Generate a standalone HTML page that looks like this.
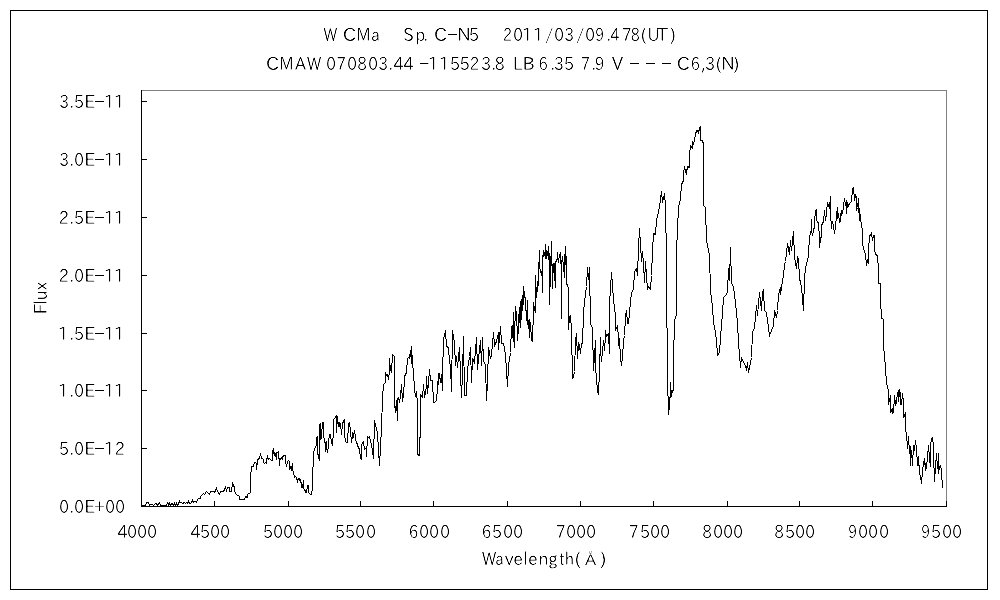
<!DOCTYPE html>
<html><head><meta charset="utf-8"><title>W CMa spectrum</title><style>
html,body{margin:0;padding:0;background:#fff;width:1000px;height:600px;overflow:hidden}
svg{display:block}
text{stroke:#fff;stroke-width:0.2px;font-family:"IPAPGothic","Liberation Sans","Noto Sans CJK JP",sans-serif;font-size:18px;fill:#000}
.s{filter:url(#sharp)}
</style></head><body>
<svg width="1000" height="600" viewBox="0 0 1000 600">
<defs>
<filter id="sharp" color-interpolation-filters="sRGB"><feFlood flood-color="#fff"/><feComposite in="SourceGraphic" operator="over"/><feColorMatrix type="matrix" values="0 0 0 0 0  0 0 0 0 0  0 0 0 0 0  -1 0 0 0 1"/><feComponentTransfer><feFuncA type="linear" slope="2" intercept="-0.5"/></feComponentTransfer></filter>
</defs>
<rect x="0" y="0" width="1000" height="600" fill="#fff"/>
<rect x="10.5" y="10.5" width="977" height="579" fill="none" stroke="#000" stroke-width="1" shape-rendering="crispEdges"/>
<text class="s" y="41"><tspan x="323.42" y="41" textLength="13.75" lengthAdjust="spacingAndGlyphs">W</tspan> <tspan x="342.86" y="41" textLength="13.52" lengthAdjust="spacingAndGlyphs">C</tspan><tspan x="356.54" y="41" textLength="13.95" lengthAdjust="spacingAndGlyphs">M</tspan><tspan x="371.10" y="41" textLength="8.88" lengthAdjust="spacingAndGlyphs">a</tspan>　<tspan x="403.07" y="41" textLength="10.89" lengthAdjust="spacingAndGlyphs">S</tspan><tspan x="415.60" y="41" textLength="9.75" lengthAdjust="spacingAndGlyphs">p</tspan><tspan x="423.15" y="41">.</tspan> <tspan x="433.91" y="41">C</tspan><tspan x="446.24" y="40" textLength="12.61" lengthAdjust="spacingAndGlyphs">-</tspan><tspan x="457.33" y="41" textLength="13.41" lengthAdjust="spacingAndGlyphs">N</tspan><tspan x="468.73" y="41" textLength="10.31" lengthAdjust="spacingAndGlyphs">5</tspan>　<tspan x="502.99" y="41" textLength="8.82" lengthAdjust="spacingAndGlyphs">2</tspan><tspan x="513.15" y="41" textLength="9.65" lengthAdjust="spacingAndGlyphs">0</tspan><tspan x="521.40" y="41">1</tspan><tspan x="532.40" y="41">1</tspan><tspan x="544.79" y="41" textLength="9.45" lengthAdjust="spacingAndGlyphs">/</tspan><tspan x="554.15" y="41" textLength="9.65" lengthAdjust="spacingAndGlyphs">0</tspan><tspan x="564.30" y="41" textLength="9.97" lengthAdjust="spacingAndGlyphs">3</tspan><tspan x="575.79" y="41" textLength="9.45" lengthAdjust="spacingAndGlyphs">/</tspan><tspan x="585.15" y="41" textLength="9.65" lengthAdjust="spacingAndGlyphs">0</tspan><tspan x="595.22" y="41" textLength="8.82" lengthAdjust="spacingAndGlyphs">9</tspan><tspan x="606.15" y="41">.</tspan><tspan x="610.52" y="41" textLength="8.98" lengthAdjust="spacingAndGlyphs">4</tspan><tspan x="621.99" y="41" textLength="9.56" lengthAdjust="spacingAndGlyphs">7</tspan><tspan x="630.70" y="41" textLength="9.05" lengthAdjust="spacingAndGlyphs">8</tspan><tspan x="640.60" y="41">(</tspan><tspan x="647.70" y="41" textLength="11.64" lengthAdjust="spacingAndGlyphs">U</tspan><tspan x="657.10" y="41">T</tspan><tspan x="669.90" y="41">)</tspan></text>
<text class="s" y="70"><tspan x="265.91" y="70">C</tspan><tspan x="279.54" y="70" textLength="13.95" lengthAdjust="spacingAndGlyphs">M</tspan><tspan x="295.00" y="70" textLength="11.07" lengthAdjust="spacingAndGlyphs">A</tspan><tspan x="306.91" y="70" textLength="14.26" lengthAdjust="spacingAndGlyphs">W</tspan> <tspan x="326.15" y="70" textLength="9.65" lengthAdjust="spacingAndGlyphs">0</tspan><tspan x="336.60" y="70" textLength="9.43" lengthAdjust="spacingAndGlyphs">7</tspan><tspan x="347.15" y="70" textLength="9.65" lengthAdjust="spacingAndGlyphs">0</tspan><tspan x="357.15" y="70" textLength="9.65" lengthAdjust="spacingAndGlyphs">8</tspan><tspan x="368.15" y="70" textLength="9.65" lengthAdjust="spacingAndGlyphs">0</tspan><tspan x="378.30" y="70" textLength="9.97" lengthAdjust="spacingAndGlyphs">3</tspan><tspan x="388.15" y="70">.</tspan><tspan x="393.47" y="70" textLength="10.10" lengthAdjust="spacingAndGlyphs">4</tspan><tspan x="403.47" y="70" textLength="10.10" lengthAdjust="spacingAndGlyphs">4</tspan> <tspan x="418.30" y="69" textLength="12.19" lengthAdjust="spacingAndGlyphs">-</tspan><tspan x="427.40" y="70">1</tspan><tspan x="438.40" y="70">1</tspan><tspan x="449.73" y="70" textLength="10.31" lengthAdjust="spacingAndGlyphs">5</tspan><tspan x="459.43" y="70" textLength="10.31" lengthAdjust="spacingAndGlyphs">5</tspan><tspan x="469.73" y="70" textLength="9.32" lengthAdjust="spacingAndGlyphs">2</tspan><tspan x="480.97" y="70" textLength="10.34" lengthAdjust="spacingAndGlyphs">3</tspan><tspan x="491.15" y="70">.</tspan><tspan x="494.82" y="70" textLength="10.01" lengthAdjust="spacingAndGlyphs">8</tspan> <tspan x="512.67" y="70" textLength="9.94" lengthAdjust="spacingAndGlyphs">L</tspan><tspan x="522.49" y="70" textLength="12.46" lengthAdjust="spacingAndGlyphs">B</tspan> <tspan x="538.55" y="70" textLength="9.30" lengthAdjust="spacingAndGlyphs">6</tspan><tspan x="550.15" y="70">.</tspan><tspan x="554.10" y="70" textLength="9.97" lengthAdjust="spacingAndGlyphs">3</tspan><tspan x="563.73" y="70" textLength="10.31" lengthAdjust="spacingAndGlyphs">5</tspan> <tspan x="581.06" y="70" textLength="8.92" lengthAdjust="spacingAndGlyphs">7</tspan><tspan x="591.15" y="70">.</tspan><tspan x="594.74" y="70" textLength="9.70" lengthAdjust="spacingAndGlyphs">9</tspan> <tspan x="612.00" y="70" textLength="11.07" lengthAdjust="spacingAndGlyphs">V</tspan> <tspan x="628.24" y="69" textLength="12.61" lengthAdjust="spacingAndGlyphs">-</tspan> <tspan x="644.24" y="69" textLength="12.61" lengthAdjust="spacingAndGlyphs">-</tspan> <tspan x="660.24" y="69" textLength="12.61" lengthAdjust="spacingAndGlyphs">-</tspan> <tspan x="676.69" y="70">C</tspan><tspan x="690.67" y="70" textLength="9.17" lengthAdjust="spacingAndGlyphs">6</tspan><tspan x="701.27" y="70">,</tspan><tspan x="705.02" y="70" textLength="10.28" lengthAdjust="spacingAndGlyphs">3</tspan><tspan x="715.60" y="70">(</tspan><tspan x="721.33" y="70" textLength="13.41" lengthAdjust="spacingAndGlyphs">N</tspan><tspan x="733.40" y="70">)</tspan></text>
<path d="M141,90.5H946.5V506" fill="none" stroke="#808080" stroke-width="1" shape-rendering="crispEdges"/>
<path d="M141.5,90V506.5H947 M141,506.5H147 M141,448.5H147 M141,390.5H147 M141,333.5H147 M141,275.5H147 M141,217.5H147 M141,159.5H147 M141,101.5H147 M141.5,506V501 M214.5,506V501 M288.5,506V501 M360.5,506V501 M433.5,506V501 M507.5,506V501 M580.5,506V501 M653.5,506V501 M727.5,506V501 M799.5,506V501 M872.5,506V501 M946.5,506V501" fill="none" stroke="#000" stroke-width="1" shape-rendering="crispEdges"/>
<polyline points="141.5,505.5 145.5,505.5 146.5,502.5 148.5,502.5 149.5,505.5 150.5,504.5 152.5,504.5 153.5,505.5 155.5,503.5 156.5,503.5 157.5,505.5 159.5,502.5 160.5,505.5 166.5,505.5 167.5,502.5 168.5,503.5 168.5,505.5 169.5,503.5 170.5,505.5 171.5,503.5 172.5,503.5 173.5,505.5 174.5,503.5 175.5,505.5 176.5,503.5 177.5,505.5 178.5,503.5 179.5,500.5 179.5,502.5 181.5,502.5 182.5,503.5 184.5,502.5 185.5,503.5 186.5,502.5 187.5,503.5 188.5,500.5 188.5,502.5 190.5,503.5 191.5,502.5 192.5,500.5 193.5,502.5 194.5,501.5 196.5,501.5 196.5,502.5 197.5,499.5 198.5,498.5 200.5,498.5 200.5,496.5 203.5,493.5 204.5,494.5 206.5,491.5 209.5,494.5 210.5,491.5 213.5,491.5 214.5,492.5 216.5,488.5 217.5,491.5 219.5,494.5 220.5,491.5 223.5,491.5 225.5,487.5 226.5,490.5 227.5,487.5 229.5,487.5 229.5,491.5 231.5,491.5 232.5,483.5 233.5,485.5 234.5,487.5 234.5,491.5 236.5,494.5 239.5,496.5 239.5,499.5 244.5,499.5 245.5,496.5 247.5,497.5 247.5,494.5 250.5,492.5 250.5,477.5 251.5,466.5 253.5,466.5 254.5,462.5 255.5,462.5 256.5,463.5 256.5,469.5 257.5,460.5 258.5,458.5 259.5,458.5 260.5,453.5 261.5,458.5 262.5,458.5 263.5,459.5 263.5,462.5 264.5,463.5 265.5,462.5 266.5,463.5 266.5,460.5 267.5,456.5 268.5,459.5 269.5,458.5 270.5,459.5 271.5,460.5 272.5,460.5 272.5,450.5 273.5,453.5 273.5,448.5 274.5,455.5 274.5,453.5 275.5,453.5 276.5,459.5 276.5,452.5 277.5,452.5 278.5,451.5 279.5,465.5 279.5,458.5 280.5,459.5 280.5,458.5 281.5,457.5 282.5,459.5 282.5,457.5 283.5,455.5 285.5,455.5 285.5,461.5 286.5,466.5 287.5,461.5 288.5,460.5 289.5,461.5 289.5,469.5 290.5,467.5 291.5,469.5 292.5,463.5 292.5,469.5 293.5,472.5 294.5,477.5 295.5,476.5 296.5,477.5 297.5,481.5 298.5,478.5 299.5,478.5 300.5,482.5 300.5,479.5 301.5,485.5 301.5,487.5 302.5,487.5 303.5,480.5 303.5,488.5 304.5,489.5 305.5,491.5 305.5,492.5 306.5,492.5 307.5,485.5 308.5,485.5 308.5,492.5 309.5,493.5 310.5,494.5 311.5,494.5 312.5,488.5 312.5,482.5 313.5,452.5 314.5,449.5 314.5,448.5 315.5,447.5 316.5,444.5 316.5,437.5 317.5,436.5 317.5,453.5 318.5,455.5 318.5,457.5 319.5,460.5 319.5,425.5 320.5,423.5 320.5,439.5 321.5,437.5 321.5,435.5 322.5,422.5 323.5,422.5 323.5,435.5 324.5,439.5 325.5,445.5 325.5,451.5 326.5,441.5 326.5,446.5 327.5,452.5 328.5,445.5 328.5,442.5 329.5,434.5 330.5,434.5 331.5,443.5 332.5,444.5 332.5,445.5 333.5,430.5 333.5,419.5 334.5,418.5 335.5,417.5 336.5,415.5 336.5,432.5 337.5,416.5 337.5,417.5 338.5,426.5 339.5,426.5 339.5,422.5 340.5,423.5 341.5,434.5 342.5,423.5 343.5,421.5 344.5,419.5 344.5,433.5 345.5,441.5 346.5,442.5 347.5,442.5 348.5,423.5 349.5,422.5 350.5,430.5 351.5,442.5 352.5,432.5 352.5,438.5 353.5,436.5 354.5,430.5 355.5,437.5 356.5,443.5 357.5,443.5 357.5,445.5 358.5,447.5 359.5,449.5 360.5,457.5 361.5,459.5 361.5,445.5 362.5,442.5 363.5,441.5 364.5,449.5 365.5,448.5 366.5,449.5 366.5,456.5 367.5,436.5 368.5,437.5 369.5,436.5 370.5,441.5 371.5,444.5 373.5,458.5 374.5,420.5 377.5,433.5 379.5,465.5 381.5,428.5 382.5,397.5 383.5,384.5 385.5,382.5 385.5,372.5 386.5,375.5 387.5,374.5 388.5,379.5 389.5,370.5 389.5,358.5 390.5,370.5 391.5,366.5 391.5,372.5 392.5,354.5 394.5,356.5 394.5,402.5 395.5,412.5 396.5,400.5 397.5,420.5 397.5,398.5 398.5,397.5 399.5,402.5 400.5,396.5 401.5,384.5 402.5,401.5 403.5,393.5 403.5,397.5 404.5,376.5 406.5,372.5 407.5,358.5 408.5,357.5 409.5,358.5 410.5,350.5 411.5,363.5 411.5,346.5 412.5,363.5 413.5,372.5 414.5,388.5 415.5,396.5 416.5,397.5 416.5,391.5 417.5,404.5 417.5,454.5 419.5,455.5 420.5,420.5 420.5,394.5 422.5,397.5 423.5,384.5 424.5,397.5 426.5,386.5 426.5,376.5 427.5,393.5 428.5,382.5 429.5,369.5 430.5,380.5 432.5,380.5 433.5,402.5 434.5,402.5 436.5,400.5 437.5,388.5 438.5,373.5 438.5,384.5 439.5,373.5 440.5,382.5 441.5,374.5 442.5,390.5 442.5,376.5 443.5,339.5 445.5,330.5 446.5,346.5 448.5,347.5 449.5,362.5 450.5,365.5 451.5,391.5 452.5,330.5 454.5,343.5 455.5,365.5 456.5,356.5 457.5,367.5 459.5,347.5 460.5,373.5 461.5,397.5 462.5,373.5 463.5,336.5 464.5,395.5 466.5,395.5 467.5,369.5 469.5,356.5 470.5,347.5 471.5,382.5 472.5,358.5 474.5,362.5 476.5,337.5 477.5,369.5 479.5,349.5 480.5,340.5 481.5,365.5 482.5,337.5 483.5,360.5 485.5,365.5 486.5,400.5 487.5,382.5 488.5,347.5 490.5,358.5 491.5,354.5 493.5,332.5 494.5,345.5 496.5,341.5 498.5,332.5 498.5,349.5 500.5,326.5 501.5,343.5 503.5,343.5 505.5,354.5 506.5,371.5 507.5,386.5 508.5,365.5 510.5,352.5 511.5,326.5 512.5,328.5 512.5,337.5 513.5,312.5 513.5,336.5 514.5,347.5 514.5,336.5 515.5,306.5 516.5,315.5 516.5,311.5 517.5,340.5 518.5,314.5 518.5,333.5 519.5,313.5 519.5,307.5 520.5,327.5 520.5,303.5 521.5,299.5 521.5,319.5 522.5,302.5 522.5,304.5 523.5,286.5 523.5,304.5 524.5,291.5 525.5,301.5 525.5,300.5 526.5,320.5 527.5,300.5 527.5,321.5 528.5,328.5 528.5,320.5 529.5,337.5 529.5,319.5 530.5,323.5 531.5,339.5 532.5,341.5 532.5,325.5 533.5,324.5 533.5,302.5 534.5,309.5 535.5,312.5 535.5,297.5 535.5,275.5 536.5,297.5 537.5,281.5 537.5,291.5 538.5,281.5 538.5,274.5 539.5,250.5 539.5,267.5 540.5,270.5 541.5,275.5 541.5,271.5 542.5,274.5 542.5,292.5 542.5,259.5 543.5,250.5 543.5,256.5 544.5,252.5 545.5,258.5 545.5,243.5 545.5,255.5 546.5,258.5 546.5,250.5 547.5,252.5 548.5,259.5 548.5,246.5 549.5,259.5 549.5,304.5 550.5,271.5 550.5,272.5 551.5,241.5 552.5,288.5 552.5,264.5 553.5,272.5 553.5,263.5 554.5,280.5 554.5,263.5 555.5,287.5 555.5,262.5 556.5,260.5 557.5,258.5 557.5,252.5 558.5,262.5 558.5,261.5 559.5,255.5 559.5,256.5 560.5,252.5 561.5,274.5 561.5,318.5 561.5,263.5 562.5,256.5 563.5,267.5 563.5,271.5 564.5,254.5 564.5,277.5 565.5,253.5 565.5,246.5 566.5,265.5 566.5,284.5 567.5,284.5 568.5,289.5 568.5,329.5 569.5,316.5 570.5,315.5 571.5,330.5 572.5,378.5 573.5,376.5 574.5,371.5 575.5,340.5 576.5,333.5 577.5,358.5 578.5,343.5 579.5,345.5 580.5,353.5 581.5,343.5 582.5,343.5 583.5,313.5 584.5,301.5 586.5,286.5 587.5,267.5 588.5,279.5 589.5,267.5 590.5,323.5 592.5,328.5 593.5,370.5 595.5,340.5 595.5,366.5 597.5,391.5 598.5,393.5 599.5,371.5 600.5,337.5 600.5,350.5 601.5,361.5 603.5,340.5 604.5,350.5 605.5,336.5 605.5,330.5 606.5,336.5 608.5,333.5 609.5,353.5 609.5,303.5 611.5,272.5 613.5,299.5 615.5,316.5 615.5,330.5 617.5,325.5 618.5,338.5 618.5,345.5 619.5,338.5 620.5,358.5 621.5,365.5 622.5,356.5 623.5,341.5 624.5,335.5 625.5,316.5 626.5,310.5 627.5,323.5 628.5,323.5 629.5,313.5 630.5,301.5 631.5,292.5 633.5,289.5 634.5,271.5 636.5,268.5 637.5,275.5 638.5,247.5 639.5,228.5 640.5,244.5 641.5,261.5 642.5,251.5 643.5,263.5 644.5,282.5 645.5,261.5 647.5,289.5 648.5,286.5 650.5,289.5 651.5,275.5 652.5,251.5 653.5,233.5 655.5,234.5 656.5,219.5 658.5,212.5 659.5,206.5 661.5,191.5 662.5,202.5 664.5,193.5 665.5,205.5 666.5,258.5 667.5,395.5 668.5,396.5 668.5,414.5 669.5,406.5 669.5,398.5 670.5,396.5 670.5,382.5 671.5,396.5 672.5,390.5 673.5,390.5 673.5,360.5 674.5,320.5 676.5,314.5 676.5,251.5 678.5,207.5 680.5,198.5 681.5,184.5 683.5,180.5 683.5,174.5 684.5,166.5 685.5,171.5 686.5,169.5 686.5,174.5 687.5,166.5 689.5,167.5 689.5,154.5 690.5,145.5 691.5,146.5 692.5,148.5 692.5,141.5 693.5,143.5 694.5,140.5 695.5,134.5 696.5,130.5 697.5,130.5 698.5,132.5 699.5,128.5 700.5,126.5 700.5,140.5 702.5,140.5 703.5,144.5 703.5,145.5 703.5,205.5 705.5,207.5 706.5,240.5 707.5,245.5 709.5,255.5 710.5,290.5 712.5,307.5 713.5,322.5 715.5,332.5 716.5,340.5 717.5,355.5 719.5,352.5 720.5,337.5 722.5,312.5 723.5,297.5 725.5,295.5 727.5,292.5 728.5,268.5 729.5,280.5 730.5,247.5 731.5,282.5 733.5,287.5 735.5,302.5 737.5,322.5 738.5,342.5 740.5,367.5 741.5,357.5 743.5,362.5 745.5,365.5 746.5,370.5 747.5,362.5 748.5,372.5 751.5,357.5 752.5,332.5 754.5,327.5 756.5,305.5 757.5,315.5 759.5,292.5 761.5,310.5 762.5,292.5 763.5,290.5 764.5,310.5 766.5,312.5 767.5,320.5 769.5,335.5 771.5,330.5 773.5,325.5 774.5,310.5 776.5,317.5 777.5,310.5 778.5,294.5 780.5,287.5 780.5,294.5 782.5,280.5 783.5,275.5 784.5,264.5 785.5,261.5 786.5,252.5 787.5,243.5 789.5,254.5 790.5,240.5 791.5,250.5 793.5,231.5 794.5,257.5 796.5,268.5 797.5,257.5 798.5,259.5 799.5,278.5 800.5,282.5 801.5,287.5 803.5,310.5 804.5,278.5 805.5,268.5 808.5,255.5 808.5,252.5 809.5,238.5 810.5,231.5 811.5,231.5 811.5,218.5 811.5,230.5 812.5,235.5 813.5,230.5 814.5,226.5 814.5,221.5 815.5,211.5 816.5,209.5 816.5,220.5 817.5,221.5 818.5,223.5 819.5,237.5 819.5,247.5 820.5,238.5 821.5,236.5 821.5,225.5 822.5,223.5 823.5,221.5 824.5,210.5 825.5,220.5 826.5,213.5 826.5,210.5 827.5,203.5 828.5,205.5 829.5,208.5 830.5,196.5 830.5,213.5 831.5,228.5 831.5,222.5 832.5,221.5 833.5,225.5 834.5,233.5 835.5,227.5 836.5,215.5 837.5,207.5 837.5,218.5 838.5,213.5 839.5,222.5 840.5,213.5 840.5,221.5 841.5,210.5 842.5,213.5 843.5,206.5 844.5,198.5 845.5,205.5 846.5,200.5 846.5,213.5 847.5,203.5 848.5,205.5 849.5,203.5 850.5,202.5 851.5,201.5 852.5,188.5 853.5,187.5 854.5,200.5 855.5,195.5 856.5,197.5 856.5,210.5 857.5,207.5 858.5,198.5 858.5,205.5 859.5,220.5 859.5,208.5 860.5,219.5 862.5,230.5 862.5,245.5 863.5,246.5 864.5,252.5 865.5,253.5 866.5,265.5 867.5,260.5 868.5,263.5 868.5,251.5 869.5,235.5 870.5,235.5 871.5,232.5 872.5,240.5 873.5,235.5 874.5,235.5 874.5,250.5 875.5,253.5 876.5,255.5 877.5,255.5 878.5,270.5 878.5,283.5 880.5,283.5 880.5,298.5 881.5,318.5 882.5,318.5 883.5,319.5 883.5,346.5 884.5,354.5 886.5,382.5 887.5,387.5 888.5,390.5 888.5,404.5 889.5,398.5 889.5,401.5 890.5,395.5 890.5,412.5 891.5,410.5 892.5,412.5 893.5,404.5 893.5,412.5 894.5,395.5 895.5,404.5 895.5,405.5 896.5,401.5 897.5,392.5 898.5,401.5 898.5,390.5 899.5,389.5 900.5,404.5 900.5,392.5 901.5,404.5 902.5,393.5 902.5,394.5 903.5,401.5 903.5,400.5 903.5,417.5 904.5,415.5 905.5,412.5 905.5,430.5 906.5,433.5 907.5,448.5 908.5,436.5 909.5,453.5 910.5,446.5 910.5,465.5 911.5,450.5 912.5,465.5 913.5,445.5 914.5,450.5 915.5,440.5 916.5,448.5 917.5,465.5 918.5,465.5 918.5,456.5 919.5,473.5 920.5,476.5 921.5,483.5 922.5,470.5 923.5,463.5 924.5,458.5 925.5,470.5 925.5,463.5 926.5,468.5 927.5,456.5 928.5,445.5 929.5,458.5 930.5,466.5 930.5,446.5 931.5,438.5 932.5,437.5 933.5,446.5 933.5,453.5 934.5,481.5 935.5,466.5 936.5,453.5 937.5,468.5 938.5,453.5 938.5,473.5 939.5,466.5 940.5,465.5 941.5,470.5 942.5,488.5" fill="none" stroke="#000" stroke-width="1" shape-rendering="crispEdges"/>
<text class="s" y="513"><tspan x="59.15" y="513" textLength="9.65" lengthAdjust="spacingAndGlyphs">0</tspan><tspan x="69.15" y="513">.</tspan><tspan x="74.15" y="513" textLength="9.65" lengthAdjust="spacingAndGlyphs">0</tspan><tspan x="84.36" y="513" textLength="11.25" lengthAdjust="spacingAndGlyphs">E</tspan><tspan x="94.03" y="512" textLength="10.97" lengthAdjust="spacingAndGlyphs">+</tspan><tspan x="105.15" y="513" textLength="9.65" lengthAdjust="spacingAndGlyphs">0</tspan><tspan x="115.15" y="513" textLength="9.65" lengthAdjust="spacingAndGlyphs">0</tspan></text>
<text class="s" y="455"><tspan x="58.73" y="455" textLength="10.31" lengthAdjust="spacingAndGlyphs">5</tspan><tspan x="69.15" y="455">.</tspan><tspan x="74.15" y="455" textLength="9.65" lengthAdjust="spacingAndGlyphs">0</tspan><tspan x="84.36" y="455" textLength="11.25" lengthAdjust="spacingAndGlyphs">E</tspan><tspan x="93.24" y="454" textLength="12.61" lengthAdjust="spacingAndGlyphs">-</tspan><tspan x="103.40" y="455">1</tspan><tspan x="114.84" y="455" textLength="10.08" lengthAdjust="spacingAndGlyphs">2</tspan></text>
<text class="s" y="397"><tspan x="57.40" y="397">1</tspan><tspan x="69.15" y="397">.</tspan><tspan x="74.15" y="397" textLength="9.65" lengthAdjust="spacingAndGlyphs">0</tspan><tspan x="84.36" y="397" textLength="11.25" lengthAdjust="spacingAndGlyphs">E</tspan><tspan x="93.24" y="396" textLength="12.61" lengthAdjust="spacingAndGlyphs">-</tspan><tspan x="103.40" y="397">1</tspan><tspan x="113.40" y="397">1</tspan></text>
<text class="s" y="340"><tspan x="57.40" y="340">1</tspan><tspan x="69.15" y="340">.</tspan><tspan x="73.73" y="340" textLength="10.31" lengthAdjust="spacingAndGlyphs">5</tspan><tspan x="84.36" y="340" textLength="11.25" lengthAdjust="spacingAndGlyphs">E</tspan><tspan x="93.24" y="339" textLength="12.61" lengthAdjust="spacingAndGlyphs">-</tspan><tspan x="103.40" y="340">1</tspan><tspan x="113.40" y="340">1</tspan></text>
<text class="s" y="282"><tspan x="58.84" y="282" textLength="10.08" lengthAdjust="spacingAndGlyphs">2</tspan><tspan x="69.15" y="282">.</tspan><tspan x="74.15" y="282" textLength="9.65" lengthAdjust="spacingAndGlyphs">0</tspan><tspan x="84.36" y="282" textLength="11.25" lengthAdjust="spacingAndGlyphs">E</tspan><tspan x="93.24" y="281" textLength="12.61" lengthAdjust="spacingAndGlyphs">-</tspan><tspan x="103.40" y="282">1</tspan><tspan x="113.40" y="282">1</tspan></text>
<text class="s" y="224"><tspan x="58.84" y="224" textLength="10.08" lengthAdjust="spacingAndGlyphs">2</tspan><tspan x="69.15" y="224">.</tspan><tspan x="73.73" y="224" textLength="10.31" lengthAdjust="spacingAndGlyphs">5</tspan><tspan x="84.36" y="224" textLength="11.25" lengthAdjust="spacingAndGlyphs">E</tspan><tspan x="93.24" y="223" textLength="12.61" lengthAdjust="spacingAndGlyphs">-</tspan><tspan x="103.40" y="224">1</tspan><tspan x="113.40" y="224">1</tspan></text>
<text class="s" y="166"><tspan x="59.30" y="166" textLength="9.97" lengthAdjust="spacingAndGlyphs">3</tspan><tspan x="69.15" y="166">.</tspan><tspan x="74.15" y="166" textLength="9.65" lengthAdjust="spacingAndGlyphs">0</tspan><tspan x="84.36" y="166" textLength="11.25" lengthAdjust="spacingAndGlyphs">E</tspan><tspan x="93.24" y="165" textLength="12.61" lengthAdjust="spacingAndGlyphs">-</tspan><tspan x="103.40" y="166">1</tspan><tspan x="113.40" y="166">1</tspan></text>
<text class="s" y="108"><tspan x="59.30" y="108" textLength="9.97" lengthAdjust="spacingAndGlyphs">3</tspan><tspan x="69.15" y="108">.</tspan><tspan x="73.73" y="108" textLength="10.31" lengthAdjust="spacingAndGlyphs">5</tspan><tspan x="84.36" y="108" textLength="11.25" lengthAdjust="spacingAndGlyphs">E</tspan><tspan x="93.24" y="107" textLength="12.61" lengthAdjust="spacingAndGlyphs">-</tspan><tspan x="103.40" y="108">1</tspan><tspan x="113.40" y="108">1</tspan></text>
<text class="s" y="538"><tspan x="117.47" y="538" textLength="10.10" lengthAdjust="spacingAndGlyphs">4</tspan><tspan x="127.15" y="538" textLength="9.65" lengthAdjust="spacingAndGlyphs">0</tspan><tspan x="137.15" y="538" textLength="9.65" lengthAdjust="spacingAndGlyphs">0</tspan><tspan x="147.15" y="538" textLength="9.65" lengthAdjust="spacingAndGlyphs">0</tspan></text>
<text class="s" y="538"><tspan x="190.47" y="538" textLength="10.10" lengthAdjust="spacingAndGlyphs">4</tspan><tspan x="199.73" y="538" textLength="10.31" lengthAdjust="spacingAndGlyphs">5</tspan><tspan x="210.15" y="538" textLength="9.65" lengthAdjust="spacingAndGlyphs">0</tspan><tspan x="220.15" y="538" textLength="9.65" lengthAdjust="spacingAndGlyphs">0</tspan></text>
<text class="s" y="538"><tspan x="262.73" y="538" textLength="10.31" lengthAdjust="spacingAndGlyphs">5</tspan><tspan x="273.15" y="538" textLength="9.65" lengthAdjust="spacingAndGlyphs">0</tspan><tspan x="283.15" y="538" textLength="9.65" lengthAdjust="spacingAndGlyphs">0</tspan><tspan x="293.15" y="538" textLength="9.65" lengthAdjust="spacingAndGlyphs">0</tspan></text>
<text class="s" y="538"><tspan x="334.73" y="538" textLength="10.31" lengthAdjust="spacingAndGlyphs">5</tspan><tspan x="344.73" y="538" textLength="10.31" lengthAdjust="spacingAndGlyphs">5</tspan><tspan x="355.15" y="538" textLength="9.65" lengthAdjust="spacingAndGlyphs">0</tspan><tspan x="366.15" y="538" textLength="9.65" lengthAdjust="spacingAndGlyphs">0</tspan></text>
<text class="s" y="538"><tspan x="408.82" y="538" textLength="9.56" lengthAdjust="spacingAndGlyphs">6</tspan><tspan x="419.15" y="538" textLength="9.65" lengthAdjust="spacingAndGlyphs">0</tspan><tspan x="429.15" y="538" textLength="9.65" lengthAdjust="spacingAndGlyphs">0</tspan><tspan x="440.15" y="538" textLength="9.65" lengthAdjust="spacingAndGlyphs">0</tspan></text>
<text class="s" y="538"><tspan x="481.82" y="538" textLength="9.56" lengthAdjust="spacingAndGlyphs">6</tspan><tspan x="491.73" y="538" textLength="10.31" lengthAdjust="spacingAndGlyphs">5</tspan><tspan x="503.15" y="538" textLength="9.65" lengthAdjust="spacingAndGlyphs">0</tspan><tspan x="513.15" y="538" textLength="9.65" lengthAdjust="spacingAndGlyphs">0</tspan></text>
<text class="s" y="538"><tspan x="555.99" y="538" textLength="9.56" lengthAdjust="spacingAndGlyphs">7</tspan><tspan x="566.15" y="538" textLength="9.65" lengthAdjust="spacingAndGlyphs">0</tspan><tspan x="576.15" y="538" textLength="9.65" lengthAdjust="spacingAndGlyphs">0</tspan><tspan x="586.15" y="538" textLength="9.65" lengthAdjust="spacingAndGlyphs">0</tspan></text>
<text class="s" y="538"><tspan x="628.99" y="538" textLength="9.56" lengthAdjust="spacingAndGlyphs">7</tspan><tspan x="639.73" y="538" textLength="10.31" lengthAdjust="spacingAndGlyphs">5</tspan><tspan x="650.15" y="538" textLength="9.65" lengthAdjust="spacingAndGlyphs">0</tspan><tspan x="660.15" y="538" textLength="9.65" lengthAdjust="spacingAndGlyphs">0</tspan></text>
<text class="s" y="538"><tspan x="702.15" y="538" textLength="9.65" lengthAdjust="spacingAndGlyphs">8</tspan><tspan x="713.15" y="538" textLength="9.65" lengthAdjust="spacingAndGlyphs">0</tspan><tspan x="723.15" y="538" textLength="9.65" lengthAdjust="spacingAndGlyphs">0</tspan><tspan x="733.15" y="538" textLength="9.65" lengthAdjust="spacingAndGlyphs">0</tspan></text>
<text class="s" y="538"><tspan x="774.15" y="538" textLength="9.65" lengthAdjust="spacingAndGlyphs">8</tspan><tspan x="784.73" y="538" textLength="10.31" lengthAdjust="spacingAndGlyphs">5</tspan><tspan x="795.15" y="538" textLength="9.65" lengthAdjust="spacingAndGlyphs">0</tspan><tspan x="805.15" y="538" textLength="9.65" lengthAdjust="spacingAndGlyphs">0</tspan></text>
<text class="s" y="538"><tspan x="848.22" y="538" textLength="8.82" lengthAdjust="spacingAndGlyphs">9</tspan><tspan x="858.15" y="538" textLength="9.65" lengthAdjust="spacingAndGlyphs">0</tspan><tspan x="868.15" y="538" textLength="9.65" lengthAdjust="spacingAndGlyphs">0</tspan><tspan x="879.15" y="538" textLength="9.65" lengthAdjust="spacingAndGlyphs">0</tspan></text>
<text class="s" y="538"><tspan x="921.22" y="538" textLength="8.82" lengthAdjust="spacingAndGlyphs">9</tspan><tspan x="930.73" y="538" textLength="10.31" lengthAdjust="spacingAndGlyphs">5</tspan><tspan x="942.15" y="538" textLength="9.65" lengthAdjust="spacingAndGlyphs">0</tspan><tspan x="952.15" y="538" textLength="9.65" lengthAdjust="spacingAndGlyphs">0</tspan></text>
<text class="s" y="565"><tspan x="481.91" y="565" textLength="14.26" lengthAdjust="spacingAndGlyphs">W</tspan><tspan x="495.14" y="565" textLength="8.50" lengthAdjust="spacingAndGlyphs">a</tspan><tspan x="504.70" y="565" textLength="8.95" lengthAdjust="spacingAndGlyphs">v</tspan><tspan x="513.47" y="565" textLength="9.39" lengthAdjust="spacingAndGlyphs">e</tspan><tspan x="523.40" y="565" textLength="4.25" lengthAdjust="spacingAndGlyphs">l</tspan><tspan x="528.17" y="565" textLength="9.39" lengthAdjust="spacingAndGlyphs">e</tspan><tspan x="538.28" y="565" textLength="10.32" lengthAdjust="spacingAndGlyphs">n</tspan><tspan x="548.17" y="565" textLength="9.27" lengthAdjust="spacingAndGlyphs">g</tspan><tspan x="559.54" y="565" textLength="4.82" lengthAdjust="spacingAndGlyphs">t</tspan><tspan x="564.83" y="565" textLength="9.38" lengthAdjust="spacingAndGlyphs">h</tspan><tspan x="574.53" y="565" textLength="6.30" lengthAdjust="spacingAndGlyphs">(</tspan><tspan x="582.24" y="566" textLength="16.63" lengthAdjust="spacingAndGlyphs">Å</tspan><tspan x="600.27" y="565" textLength="6.30" lengthAdjust="spacingAndGlyphs">)</tspan></text>
<text class="s" y="0" transform="translate(47,0) rotate(-90)"><tspan x="-314.54" y="0" textLength="10.81" lengthAdjust="spacingAndGlyphs">F</tspan><tspan x="-304.00" y="0" textLength="3.04" lengthAdjust="spacingAndGlyphs">l</tspan><tspan x="-300.36" y="0" textLength="9.88" lengthAdjust="spacingAndGlyphs">u</tspan><tspan x="-290.19" y="0" textLength="8.48" lengthAdjust="spacingAndGlyphs">x</tspan></text>
</svg>
</body></html>
